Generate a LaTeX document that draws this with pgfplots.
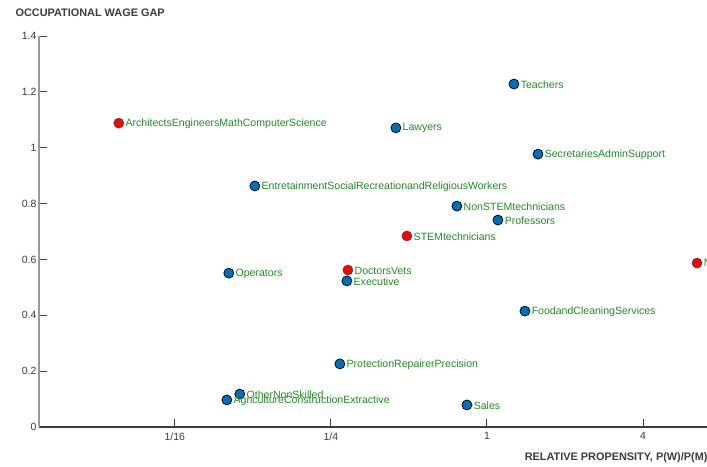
\documentclass[border=0pt]{standalone}
\usepackage{pgfplots}
\pgfplotsset{compat=1.18}
\usepackage{fontspec}
\setmainfont{Liberation Sans}
\definecolor{mblue}{RGB}{0,110,190}
\definecolor{lblgreen}{RGB}{34,139,34}
\definecolor{axgray}{RGB}{60,60,60}
\begin{document}
\begin{tikzpicture}
\begin{axis}[
  scale only axis,
  width=668pt, height=391pt,
  xmin=-5.74, xmax=2.82,
  ymin=0, ymax=1.4,
  axis lines*=left,
  clip=false,
  y axis line style={draw=gray!80, line width=1.8pt},
  x axis line style={draw=axgray, line width=1.1pt},
  tick align=inside,
  major tick length=8pt,
  tick style={axgray, line width=0.9pt},
  xtick={-4,-2,0,2},
  xticklabels={1/16,1/4,1,4},
  ytick={0,0.2,0.4,0.6,0.8,1,1.2,1.4},
  yticklabel style={/pgf/number format/fixed,/pgf/number format/precision=1},
  /pgf/number format/assume math mode=true,
  ticklabel style={font=\fontsize{10.5}{12}\selectfont, text=axgray},
  xticklabel style={yshift=-2pt},
  yticklabel style={xshift=1pt},
  point meta=explicit symbolic,
  nodes near coords,
  nodes near coords style={anchor=west, inner sep=0pt, xshift=6.5pt, yshift=-0.5pt,
     font=\fontsize{10.55}{12}\selectfont, text=lblgreen},
]
\addplot[only marks, mark=*, mark size=5pt, mark options={fill=mblue, draw=black, line width=0.7pt}]
 table[meta=label] {
x y label
0.346 1.228 Teachers
-1.167 1.071 Lawyers
0.654 0.977 SecretariesAdminSupport
-2.974 0.863 EntretainmentSocialRecreationandReligiousWorkers
-0.385 0.791 NonSTEMtechnicians
0.141 0.741 Professors
-3.308 0.551 Operators
-1.795 0.523 Executive
0.487 0.415 FoodandCleaningServices
-1.885 0.226 ProtectionRepairerPrecision
-3.167 0.118 OtherNonSkilled
-3.333 0.097 AgricultureConstructionExtractive
-0.256 0.079 Sales
};
\addplot[only marks, mark=*, mark size=5pt, mark options={fill=red, draw=black!70, line width=0.7pt}]
 table[meta=label] {
x y label
-4.718 1.088 ArchitectsEngineersMathComputerScience
-1.026 0.684 STEMtechnicians
-1.782 0.562 DoctorsVets
2.692 0.587 NursesPharmacistsTherapists
};
\end{axis}
\node[anchor=west, font=\bfseries\fontsize{10.9}{12}\selectfont, text=axgray] at (-27pt,414pt) {OCCUPATIONAL WAGE GAP};
\node[anchor=east, font=\bfseries\fontsize{10.9}{12}\selectfont, text=axgray] at (672pt,-31pt) {RELATIVE PROPENSITY, P(W)/P(M)};
\pgfresetboundingbox
\path[use as bounding box] (-39pt,-39pt) rectangle (668pt,427pt);
\end{tikzpicture}
\end{document}
